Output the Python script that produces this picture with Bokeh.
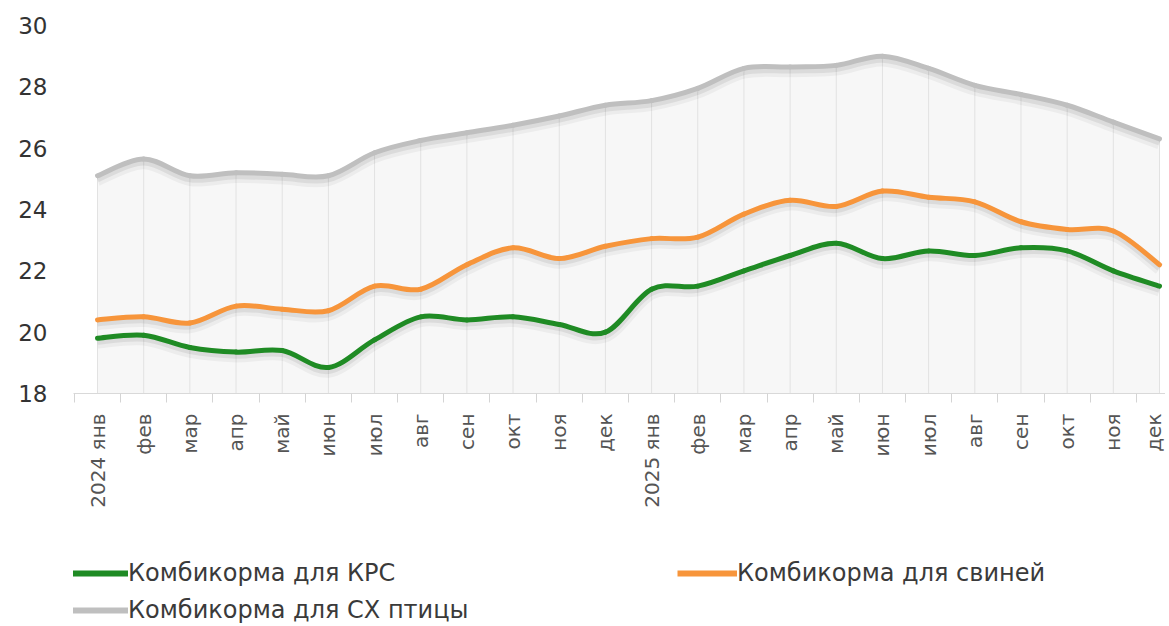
import numpy as np
from bokeh.plotting import figure
from bokeh.models import FixedTicker, Legend, LegendItem, Range1d
from bokeh.layouts import column
from bokeh.embed import file_html
from bokeh.resources import INLINE

months = ["2024 янв", "фев", "мар", "апр", "май", "июн", "июл", "авг", "сен", "окт", "ноя", "дек",
          "2025 янв", "фев", "мар", "апр", "май", "июн", "июл", "авг", "сен", "окт", "ноя", "дек"]
krs = [19.8, 19.9, 19.5, 19.35, 19.4, 18.85, 19.75, 20.5, 20.4, 20.5, 20.25, 20.0,
       21.4, 21.5, 22.0, 22.5, 22.9, 22.4, 22.65, 22.5, 22.75, 22.65, 22.0, 21.5]
pigs = [20.4, 20.5, 20.3, 20.85, 20.75, 20.7, 21.5, 21.4, 22.2, 22.75, 22.4, 22.8,
        23.05, 23.1, 23.85, 24.3, 24.1, 24.6, 24.4, 24.25, 23.6, 23.35, 23.3, 22.2]
poultry = [25.1, 25.65, 25.1, 25.2, 25.15, 25.1, 25.85, 26.25, 26.5, 26.75, 27.05, 27.4,
           27.55, 27.95, 28.6, 28.65, 28.7, 29.0, 28.6, 28.05, 27.75, 27.4, 26.85, 26.3]
names = ["Комбикорма для КРС", "Комбикорма для свиней", "Комбикорма для СХ птицы"]
colors = ["#1f8b24", "#f7953b", "#bfbfbf"]
y_ticks = [18, 20, 22, 24, 26, 28, 30]

idx = list(range(len(months)))
FONT = "DejaVu Sans"


def bez(xs, ys, dy=0.0):
    n = len(xs)
    out = dict(x0=[], y0=[], x1=[], y1=[], cx0=[], cy0=[], cx1=[], cy1=[])
    for i in range(n - 1):
        xm, ym = (xs[i - 1], ys[i - 1]) if i > 0 else (xs[i], ys[i])
        xp, yp = (xs[i + 2], ys[i + 2]) if i + 2 < n else (xs[i + 1], ys[i + 1])
        out["x0"].append(xs[i]); out["y0"].append(ys[i] + dy)
        out["x1"].append(xs[i + 1]); out["y1"].append(ys[i + 1] + dy)
        out["cx0"].append(xs[i] + (xs[i + 1] - xm) / 6)
        out["cy0"].append(ys[i] + (ys[i + 1] - ym) / 6 + dy)
        out["cx1"].append(xs[i + 1] - (xp - xs[i]) / 6)
        out["cy1"].append(ys[i + 1] - (yp - ys[i]) / 6 + dy)
    return out


p = figure(width=1165, height=520, x_range=(-0.52, 23.13), y_range=(18, 30),
           output_backend="svg", toolbar_location=None,
           min_border_left=73, min_border_right=0, min_border_top=25, min_border_bottom=127)
p.outline_line_color = None
p.xgrid.visible = False
p.ygrid.visible = False

# background shading under the top line
p.varea(x=idx, y1=[18] * len(idx), y2=poultry, fill_color="#f7f7f7")
# vertical grid lines
p.segment(x0=idx, y0=[18] * len(idx), x1=idx, y1=poultry, line_color="#e2e2e2", line_width=1)

series = [krs, pigs, poultry]
for s, c in zip(series[::-1], colors[::-1]):
    p.bezier(**bez(idx, s, -0.14), line_color="#000000", line_alpha=0.045, line_width=12)
    p.bezier(**bez(idx, s, -0.10), line_color="#000000", line_alpha=0.07, line_width=7)
    p.bezier(**bez(idx, s), line_color=c, line_width=5, line_cap="round")

xa = p.xaxis[0]
xa.ticker = FixedTicker(ticks=idx, minor_ticks=[i - 0.5 for i in range(len(idx) + 1)])
xa.major_label_overrides = {i: m for i, m in zip(idx, months)}
xa.major_label_orientation = np.pi / 2
xa.major_tick_out = 0
xa.major_tick_in = 0
xa.minor_tick_out = 9
xa.minor_tick_in = 0
xa.minor_tick_line_color = "#d4d4d4"
xa.axis_line_color = "#d9d9d9"
xa.major_label_standoff = 11
xa.major_label_text_font = FONT
xa.major_label_text_font_size = "20px"
xa.major_label_text_color = "#555555"

ya = p.yaxis[0]
ya.ticker = FixedTicker(ticks=y_ticks)
ya.axis_line_color = None
ya.major_tick_line_color = None
ya.minor_tick_line_color = None
ya.major_label_standoff = 20
ya.major_label_text_font = FONT
ya.major_label_text_font_size = "23px"
ya.major_label_text_color = "#333333"

# legend figure below the chart (its frame is aligned with the chart frame)
lg = figure(width=1165, height=104, x_range=Range1d(0, 1), y_range=Range1d(0, 1),
            output_backend="svg", toolbar_location=None,
            x_axis_location=None, y_axis_location=None,
            min_border_left=0, min_border_right=0, min_border_top=0, min_border_bottom=0)
lg.outline_line_color = None
lg.xgrid.visible = False
lg.ygrid.visible = False
items = []
for n, c, s in zip(names, colors, series):
    # proxy renderers: series values lie outside this figure's (0, 1) ranges, so only the legend glyph shows
    r = lg.line(x=idx, y=s, line_color=c, line_width=6)
    items.append(LegendItem(label=n, renderers=[r]))

legend = Legend(items=items, location=(-5, 0), orientation="horizontal", ncols=2,
                glyph_width=60, glyph_height=24, label_height=24, label_width=540,
                label_standoff=0, spacing=9, padding=0, margin=0,
                label_text_font=FONT, label_text_font_size="24px", label_text_color="#3a3a3a",
                border_line_color=None, background_fill_alpha=0)
lg.add_layout(legend, "center")

layout = column(p, lg, spacing=0)
open("out.html", "w").write(file_html(layout, INLINE))
